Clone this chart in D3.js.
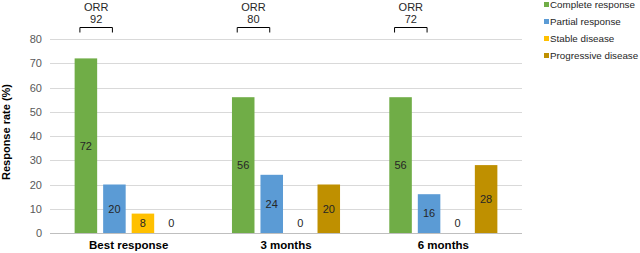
<!DOCTYPE html>
<html>
<head>
<meta charset="utf-8">
<script src="https://cdn.jsdelivr.net/npm/d3@7"></script>
<style>
  body { margin: 0; background: #fff; }
  svg { font-family: "Liberation Sans", Arial, sans-serif; }
</style>
</head>
<body>
<div id="chart"></div>
<script>
"use strict";

// data
var groups = ["Best response", "3 months", "6 months"];
var series = ["Complete response", "Partial response", "Stable disease", "Progressive disease"];
var colors = ["#70AD47", "#5B9BD5", "#FFC000", "#BF9000"];
var complete = [72, 56, 56];
var partial = [20, 24, 16];
var stable = [8, 0, 0];
var progressive = [0, 20, 28];
var orr = [92, 80, 72];
var yTicks = [0, 10, 20, 30, 40, 50, 60, 70, 80];

var values = [complete, partial, stable, progressive];

var width = 640, height = 253;
var margin = { top: 39, right: 118, bottom: 20, left: 50 };
var plotW = width - margin.left - margin.right,
    plotH = height - margin.top - margin.bottom;

var svg = d3.select("#chart")
  .append("svg")
  .attr("width", width)
  .attr("height", height);

var g = svg.append("g")
  .attr("transform", "translate(" + margin.left + "," + margin.top + ")");

var x0 = d3.scaleBand()
  .domain(groups)
  .range([0, plotW]);

var clusterW = x0.bandwidth() * 0.725;
var x1 = d3.scaleBand()
  .domain(series)
  .range([(x0.bandwidth() - clusterW) / 2, (x0.bandwidth() + clusterW) / 2])
  .paddingInner(0.21)
  .paddingOuter(0.105);

var y = d3.scaleLinear()
  .domain([0, 80])
  .range([plotH, 0]);

// gridlines
g.append("g")
  .selectAll("line")
  .data(yTicks)
  .enter()
  .append("line")
  .attr("x1", 0)
  .attr("x2", plotW)
  .attr("y1", function(d) { return Math.round(y(d)) + 0.5; })
  .attr("y2", function(d) { return Math.round(y(d)) + 0.5; })
  .attr("stroke", function(d) { return d === 0 ? "#bfbfbf" : "#d9d9d9"; })
  .attr("stroke-width", 1);

// y axis labels
var yAxis = d3.axisLeft(y).tickValues(yTicks).tickSize(0).tickPadding(8);
var ya = g.append("g").call(yAxis);
ya.select(".domain").remove();
ya.selectAll("text")
  .attr("fill", "#595959")
  .style("font-size", "11px");

// y title
svg.append("text")
  .attr("transform", "translate(10," + (margin.top + plotH / 2 - 4) + ") rotate(-90)")
  .attr("text-anchor", "middle")
  .style("font-size", "11px")
  .style("font-weight", "bold")
  .attr("fill", "#000")
  .text("Response rate (%)");

// x axis labels
var xAxis = d3.axisBottom(x0).tickSize(0).tickPadding(8);
var xa = g.append("g")
  .attr("transform", "translate(0," + plotH + ")")
  .call(xAxis);
xa.select(".domain").remove();
xa.selectAll("text")
  .attr("fill", "#000")
  .style("font-size", "11.5px")
  .style("font-weight", "bold");

// bars
var cells = [];
groups.forEach(function(grp, gi) {
  series.forEach(function(s, si) {
    cells.push({ group: grp, series: s, si: si, value: values[si][gi] });
  });
});

var bar = g.selectAll(".cell")
  .data(cells)
  .enter()
  .append("g")
  .attr("transform", function(d) { return "translate(" + (x0(d.group) + x1(d.series)) + ",0)"; });

bar.append("rect")
  .attr("x", 0)
  .attr("width", x1.bandwidth())
  .attr("y", function(d) { return y(d.value); })
  .attr("height", function(d) { return plotH - y(d.value); })
  .attr("fill", function(d) { return colors[d.si]; });

bar.append("text")
  .attr("x", x1.bandwidth() / 2)
  .attr("y", function(d) { return Math.min((y(d.value) + plotH) / 2, plotH - 10); })
  .attr("dy", "0.35em")
  .attr("text-anchor", "middle")
  .style("font-size", "11px")
  .attr("fill", "#262626")
  .text(function(d) { return d.value; });

// ORR brackets
var orrG = svg.append("g")
  .selectAll("g")
  .data(groups)
  .enter()
  .append("g");

orrG.each(function(grp, gi) {
  var cg = margin.left + x0(grp) + x1(series[0]) + x1.bandwidth() / 2;
  var cb = margin.left + x0(grp) + x1(series[1]) + x1.bandwidth() / 2;
  var left = cg - 6, right = cb - 2, mid = (left + right) / 2;
  var sel = d3.select(this);
  sel.append("path")
    .attr("d", "M" + left + ",32.5V27.5H" + right + "V32.5")
    .attr("fill", "none")
    .attr("stroke", "#000")
    .attr("stroke-width", 1);
  sel.append("text")
    .attr("x", mid)
    .attr("y", 11)
    .attr("text-anchor", "middle")
    .style("font-size", "11px")
    .attr("fill", "#262626")
    .text("ORR");
  sel.append("text")
    .attr("x", mid)
    .attr("y", 23)
    .attr("text-anchor", "middle")
    .style("font-size", "11px")
    .attr("fill", "#262626")
    .text(orr[gi]);
});

// legend
var legend = svg.append("g")
  .selectAll("g")
  .data(series)
  .enter()
  .append("g")
  .attr("transform", function(d, i) { return "translate(544," + (4.5 + i * 17) + ")"; });

legend.append("rect")
  .attr("x", 0)
  .attr("y", -2.5)
  .attr("width", 5)
  .attr("height", 5)
  .attr("fill", function(d, i) { return colors[i]; });

legend.append("text")
  .attr("x", 6)
  .attr("y", 0)
  .attr("dy", "0.35em")
  .style("font-size", "9.8px")
  .attr("fill", "#262626")
  .text(function(d) { return d; });
</script>
</body>
</html>
